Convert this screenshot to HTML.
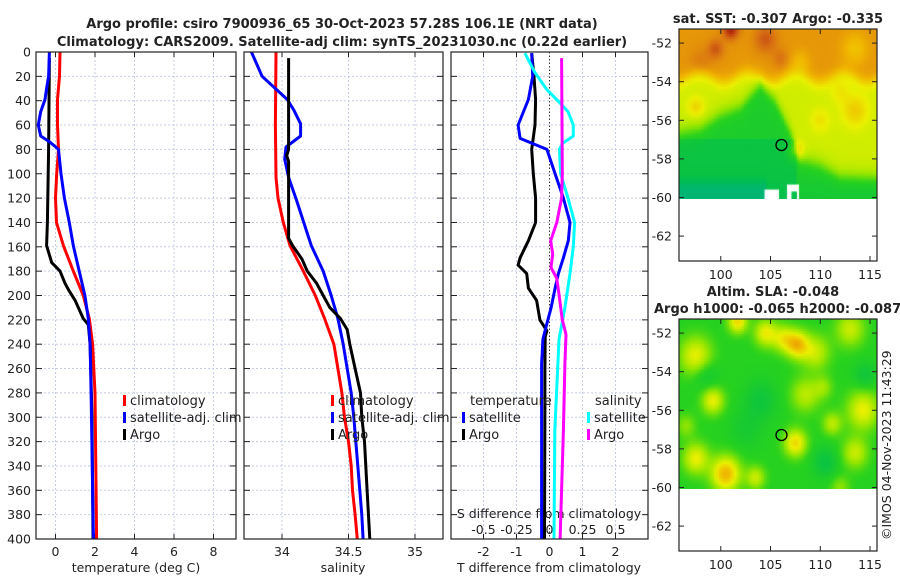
<!DOCTYPE html>
<html><head><meta charset="utf-8">
<style>
html,body{margin:0;padding:0;background:#fff;}
#wrap{position:relative;width:900px;height:580px;overflow:hidden;font-family:"DejaVu Sans","Liberation Sans",sans-serif;}
svg{position:absolute;left:0;top:0;}
canvas{position:absolute;}
text{font-family:"DejaVu Sans","Liberation Sans",sans-serif;fill:#222;}
</style></head>
<body>
<div id="wrap">
<canvas id="sstmap" width="198" height="170" style="left:679px;top:29px;width:198px;height:170px;"></canvas>
<canvas id="slamap" width="198" height="170" style="left:679px;top:319px;width:198px;height:170px;"></canvas>
<svg id="fig" width="900" height="580"></svg>
</div>
<script>
// ---- data arrays ----
const climTDepth=[0,20,39,60,80,100,120,140,159,180,200,219,240,280,400];
const climT=[0.23,0.2,0.1,0.1,0.15,0.06,0,0.05,0.4,0.9,1.41,1.71,1.88,2.0,2.08];
const satTDepth=[0,20,30,39,49,60,69,74,80,100,120,140,159,180,200,219,240,280,400];
const satT=[-0.31,-0.35,-0.45,-0.53,-0.75,-0.87,-0.75,-0.28,0.15,0.28,0.45,0.7,0.9,1.2,1.49,1.66,1.75,1.8,1.92];
const argoTDepth=[5,80,140,159,173,180,190,195,204,219,224,240,300,400];
const argoT=[-0.31,-0.35,-0.41,-0.45,-0.19,0.23,0.48,0.65,0.99,1.41,1.66,1.75,1.85,1.9];

const climSDepth=[0,60,103,120,140,159,180,200,219,240,260,280,300,320,340,360,380,400];
const climS=[33.955,33.95,33.955,33.97,34.01,34.06,34.16,34.25,34.32,34.39,34.42,34.45,34.47,34.5,34.52,34.53,34.55,34.566];
const satSDepth=[0,20,39,48,59,69,78,88,103,122,159,180,200,219,240,260,280,300,340,380,400];
const satS=[33.77,33.85,34.04,34.09,34.14,34.14,34.03,34.02,34.05,34.11,34.22,34.31,34.37,34.42,34.46,34.49,34.52,34.54,34.57,34.6,34.61];
const argoSDepth=[5,80,85,90,153,159,170,180,190,200,210,219,228,240,260,280,300,320,360,400];
const argoS=[34.05,34.05,34.035,34.05,34.05,34.08,34.15,34.19,34.26,34.31,34.36,34.44,34.49,34.51,34.55,34.59,34.6,34.62,34.64,34.66];

const argoTdDepth=[1,20,39,60,80,100,120,140,155,169,175,182,194,204,220,229,234,260,292,400];
const argoTd=[-0.54,-0.47,-0.42,-0.44,-0.54,-0.49,-0.42,-0.42,-0.64,-0.89,-0.95,-0.69,-0.64,-0.39,-0.29,-0.08,-0.13,-0.14,-0.14,-0.15];
const satTdDepth=[1,20,39,60,71,80,100,120,140,155,169,182,194,210,223,236,256,400];
const satTd=[-0.54,-0.51,-0.64,-0.95,-0.89,-0.08,0.17,0.42,0.62,0.57,0.42,0.27,0.17,0.05,-0.08,-0.2,-0.24,-0.24];
const satSdDepth=[1,17,31,42,49,60,69,75,80,100,120,140,160,182,210,236,311,400];
const satSd=[-0.186,-0.11,-0.02,0.08,0.14,0.18,0.18,0.1,0.075,0.085,0.14,0.19,0.18,0.155,0.117,0.072,0.04,0.034];
const argoSdDepth=[5,100,120,140,155,166,177,186,199,220,232,256,311,400];
const argoSd=[0.092,0.097,0.092,0.055,0.009,0.024,0.011,0.055,0.072,0.097,0.125,0.117,0.105,0.08];

const depthTicks=[0,20,40,60,80,100,120,140,160,180,200,220,240,260,280,300,320,340,360,380,400];
const tempTicks=[0,2,4,6,8];
const salTicks=[34,34.5,35];
const salTickLabels=["34","34.5","35"];
const tdTicks=[-2,-1,0,1,2];
const sdTicks=[-0.5,-0.25,0,0.25,0.5];
const sdTickLabels=["-0.5","-0.25","0","0.25","0.5"];
const latTicks=[-52,-54,-56,-58,-60,-62];
const lonTicks=[100,105,110,115];
const argoLon=106.1, argoLat=-57.28;

// ---- axes ----
const yD=d=>52+d*1.2175;
const xT=t=>55.5+19.75*t;
const xS=s=>282+133*(s-34);
const xTd=t=>549.5+33*t;
const xSd=s=>549.5+132*s;
const P=[{x0:36,x1:236},{x0:244,x1:443},{x0:451,x1:648}];
const TOP=52,BOT=539;

const NS="http://www.w3.org/2000/svg";
const svg=document.getElementById('fig');
function el(tag,attrs,parent){const e=document.createElementNS(NS,tag);for(const k in attrs)e.setAttribute(k,attrs[k]);(parent||svg).appendChild(e);return e;}
function txt(x,y,s,attrs,parent){const e=el('text',Object.assign({x:x,y:y,'font-size':12.5},attrs||{}),parent);e.textContent=s;return e;}

let t1=txt(342,28,"Argo profile: csiro 7900936_65 30-Oct-2023 57.28S 106.1E (NRT data)",{'text-anchor':'middle','font-weight':'bold','font-size':13});


let t2=txt(342,46,"Climatology: CARS2009. Satellite-adj clim: synTS_20231030.nc (0.22d earlier)",{'text-anchor':'middle','font-weight':'bold','font-size':13});



function line(pts,color,w,name){
  const p=el('polyline',{points:pts.map(q=>q[0].toFixed(1)+','+q[1].toFixed(1)).join(' '),fill:'none',stroke:color,'stroke-width':w,'stroke-linejoin':'round'});
  
  
  return p;
}
function series(depths,vals,fx,color,name){return line(depths.map((d,i)=>[fx(vals[i]),yD(d)]),color,3,name);}

P.forEach((p,i)=>{
  const g=el('g',{});
  
  
  depthTicks.forEach(d=>{ if(d>0&&d<400) el('line',{x1:p.x0,x2:p.x1,y1:yD(d),y2:yD(d),stroke:'#c5cde6','stroke-width':1,'stroke-dasharray':'2,2'},g);});
  let xs=[];
  if(i===0) xs=tempTicks.map(xT);
  if(i===1) xs=salTicks.map(xS);
  if(i===2) xs=tdTicks.filter(v=>v!==0).map(xTd);
  xs.forEach(x=>el('line',{x1:x,x2:x,y1:TOP,y2:BOT,stroke:'#c5cde6','stroke-width':1,'stroke-dasharray':'2,2'},g));
  if(i===2) el('line',{x1:xTd(0),x2:xTd(0),y1:TOP,y2:BOT,stroke:'#333','stroke-width':1,'stroke-dasharray':'1.5,2'},g);
  depthTicks.forEach(d=>{
    el('line',{x1:p.x0,x2:p.x0+6,y1:yD(d),y2:yD(d),stroke:'#222','stroke-width':1},g);
    el('line',{x1:p.x1-6,x2:p.x1,y1:yD(d),y2:yD(d),stroke:'#222','stroke-width':1},g);
  });
  xs.forEach(x=>{
    el('line',{x1:x,x2:x,y1:BOT-5,y2:BOT,stroke:'#222','stroke-width':1},g);
    el('line',{x1:x,x2:x,y1:TOP,y2:TOP+5,stroke:'#222','stroke-width':1},g);
  });
});
depthTicks.forEach(d=>{let e=txt(31,yD(d)+4.5,String(d),{'text-anchor':'end'});
  
  });
tempTicks.forEach(v=>{let e=txt(xT(v),556,String(v),{'text-anchor':'middle'});
  
  });
salTicks.forEach((v,i)=>{let e=txt(xS(v),556,salTickLabels[i],{'text-anchor':'middle'});
  
  });
tdTicks.forEach(v=>{let e=txt(xTd(v),556,String(v),{'text-anchor':'middle'});
  
  });
sdTicks.forEach((v,i)=>{let e=txt(xSd(v),534,sdTickLabels[i],{'text-anchor':'middle'});
  
  });
let a1=txt(136,572,"temperature (deg C)",{'text-anchor':'middle'});


let a2=txt(343,572,"salinity",{'text-anchor':'middle'});


let a3=txt(549,572,"T difference from climatology",{'text-anchor':'middle'});


let a4=txt(549,518,"S difference from climatology",{'text-anchor':'middle'});



series(climTDepth,climT,xT,'#ff0000','temp-climatology-line');
series(argoTDepth,argoT,xT,'#000000','temp-argo-line');
series(satTDepth,satT,xT,'#0000ff','temp-satellite-line');
series(climSDepth,climS,xS,'#ff0000','sal-climatology-line');
series(satSDepth,satS,xS,'#0000ff','sal-satellite-line');
series(argoSDepth,argoS,xS,'#000000','sal-argo-line');
series(argoTdDepth,argoTd,xTd,'#000000','tdiff-argo-line');
series(satTdDepth,satTd,xTd,'#0000ff','tdiff-satellite-line');
series(satSdDepth,satSd,xSd,'#00ffff','sdiff-satellite-line');
series(argoSdDepth,argoSd,xSd,'#ff00ff','sdiff-argo-line');

P.forEach(p=>el('rect',{x:p.x0,y:TOP,width:p.x1-p.x0,height:BOT-TOP,fill:'none',stroke:'#222','stroke-width':1.2}));

function legendEntry(x,y,color,label,name){
  const g=el('g',{});
  
  
  el('rect',{x:x,y:y-10,width:3,height:11,fill:color},g);
  txt(x+7,y,label,{'font-size':13},g);
}
[[123,'p1'],[331,'p2']].forEach(([x,k])=>{
  legendEntry(x,405,'#ff0000','climatology','legend-climatology-'+k);
  legendEntry(x,422,'#0000ff','satellite-adj. clim','legend-satellite-'+k);
  legendEntry(x,439,'#000000','Argo','legend-argo-'+k);
});
let lt=txt(470,405,'temperature',{'font-size':13});


legendEntry(462,422,'#0000ff','satellite','legend-tdiff-satellite');
legendEntry(462,439,'#000000','Argo','legend-tdiff-argo');
let ls=txt(595,405,'salinity',{'font-size':13});


legendEntry(587,422,'#00ffff','satellite','legend-sdiff-satellite');
legendEntry(587,439,'#ff00ff','Argo','legend-sdiff-argo');

// ---- maps ----
const MX0=679,MX1=877,LON0=95.8,LON1=115.7,LATTOP=-51.27,PXDEG=19.3;
const mLon=l=>MX0+(l-LON0)*(MX1-MX0)/(LON1-LON0);
function drawMapFrame(top,name){
  const g=el('g',{});
  
  
  const mLat=l=>top+(LATTOP-l)*PXDEG;
  const bot=top+232;
  latTicks.forEach(l=>{const y=mLat(l);
    el('line',{x1:MX0,x2:MX0+5,y1:y,y2:y,stroke:'#222'},g);
    el('line',{x1:MX1-5,x2:MX1,y1:y,y2:y,stroke:'#222'},g);
    txt(672,y+4.5,String(l),{'text-anchor':'end'},g);});
  lonTicks.forEach(l=>{const x=mLon(l);
    el('line',{x1:x,x2:x,y1:bot-5,y2:bot,stroke:'#222'},g);
    el('line',{x1:x,x2:x,y1:top,y2:top+5,stroke:'#222'},g);
    txt(x,bot+18,String(l),{'text-anchor':'middle'},g);});
  el('rect',{x:MX0,y:top,width:MX1-MX0,height:232,fill:'none',stroke:'#222','stroke-width':1.2},g);
  const c=el('circle',{cx:mLon(argoLon),cy:mLat(argoLat),r:5.5,fill:'none',stroke:'#000','stroke-width':1.3},g);
  
  
  return g;
}
drawMapFrame(29,'sst-map');
drawMapFrame(319,'sla-map');
let mt1=txt(778,23,'sat. SST: -0.307 Argo: -0.335',{'text-anchor':'middle','font-weight':'bold','font-size':13});


let mt2=txt(773,296,'Altim. SLA: -0.048',{'text-anchor':'middle','font-weight':'bold','font-size':13});


let mt3=txt(654,313,'Argo h1000: -0.065 h2000: -0.087',{'font-weight':'bold','font-size':13});


let cp=txt(0,0,'©IMOS 04-Nov-2023 11:43:29',{'font-size':12.5,transform:'translate(891,540) rotate(-90)'});



const CM=[[0,[0,170,160]],[0.2,[0,190,80]],[0.38,[40,210,30]],[0.5,[150,230,0]],[0.62,[235,240,0]],[0.75,[240,180,0]],[0.87,[215,110,20]],[1,[170,20,10]]];
function cmap(v){v=Math.max(0,Math.min(1,v));for(let i=1;i<CM.length;i++){if(v<=CM[i][0]){const a=CM[i-1],b=CM[i],f=(v-a[0])/(b[0]-a[0]);return a[1].map((c,k)=>Math.round(c+(b[1][k]-c)*f));}}return CM[CM.length-1][1];}
function gauss(lon,lat,blobs){let s=0;for(const b of blobs){const dx=(lon-b[0])/(b[3]*1.6),dy=(lat-b[1])/b[3];s+=b[2]*Math.exp(-(dx*dx+dy*dy));}return s;}
const sstBlobs=[[101,-51.3,0.18,0.5],[99.5,-52.3,0.1,0.5],[104.5,-51.8,0.1,0.7],[106,-52.8,0.06,0.5],[108,-53,-0.06,0.6],[97.5,-55.3,0.1,0.5],[107.5,-57.6,0.16,0.5],[113.5,-55.5,0.12,0.8],[110,-56,0.07,0.6],[98,-53,0.05,0.7],[112,-54.5,0.06,0.6],[113.5,-52.3,-0.08,0.8]];
const greenBnd=[[95,-56.7],[98,-56.4],[100,-55.7],[102,-55.3],[104,-54.1],[105.5,-55],[107,-56.6],[108,-58],[110,-58.3],[112,-58.9],[116,-59]];
function interp(arr,x){for(let i=1;i<arr.length;i++){if(x<=arr[i][0]){const f=(x-arr[i-1][0])/(arr[i][0]-arr[i-1][0]);return arr[i-1][1]+(arr[i][1]-arr[i-1][1])*f;}}return arr[arr.length-1][1];}
const sig=x=>1/(1+Math.exp(-x));
function sstVal(lon,lat){
  const ob=-53.8+0.25*Math.sin(lon*1.3);
  const gb=interp(greenBnd,lon);
  const low=(lon<107.5&&lat<-57)?0.25:0.33;
  let v=low+(0.58-low)*sig((lat-gb)*4);
  v=v+(0.8-0.58)*sig((lat-ob)*5);
  v-= 0.14*sig((-59.2-lat)*6)*(lon<104.5?1:0.2);
  return v+gauss(lon,lat,sstBlobs);
}
const slaBlobs=[[97.5,-53.2,0.25,1.0],[99.2,-55.5,0.25,0.7],[97.5,-58.5,0.25,0.8],[100.5,-59.3,0.38,0.9],[103.5,-59.5,0.2,0.6],[104.5,-52,0.25,0.7],[106.3,-52.3,0.22,0.7],[107.7,-52.6,0.33,0.7],[101.7,-51.4,0.3,0.6],[108.5,-55.2,0.18,0.9],[107.5,-57.7,0.3,0.7],[109.5,-53,0.2,0.9],[113,-51.8,0.2,0.9],[114.3,-56,0.25,1.0],[113.5,-58.2,0.2,0.8],[111.2,-56.7,0.18,0.6],[110.3,-54.8,0.12,0.6],[96.5,-56.8,0.12,0.6],[112,-60,0.12,0.6],
 [98.5,-54.2,-0.1,0.8],[104,-55.5,-0.1,1],[110.5,-58.7,-0.12,0.8],[114.5,-54.2,-0.1,0.7],[102.5,-57,-0.06,1]];
function slaVal(lon,lat){return 0.37+gauss(lon,lat,slaBlobs);}
function paint(id,fn,holes){
  const cv=document.getElementById(id),ctx=cv.getContext('2d');
  const cs=2.5;
  for(let py=0;py<170;py+=cs){for(let px=0;px<198;px+=cs){
    const lon=LON0+(px+cs/2)/198*(LON1-LON0), lat=LATTOP-(py+cs/2)/PXDEG;
    if(lat<-60.05) continue;
    if(holes&&holes(lon,lat)) continue;
    const c=cmap(fn(lon,lat));ctx.fillStyle='rgb('+c.join(',')+')';ctx.fillRect(px,py,cs+0.5,cs+0.5);}}
}
paint('sstmap',sstVal,(lon,lat)=>(lat<-59.6&&lon>104.7&&lon<105.9&&lat>-60.1)||(lat<-59.3&&lon>106.7&&lon<107.9&&!(lat<-59.7&&lon>107.2&&lon<107.7))||(lat<-59.55&&lon>104.4&&lon<104.6));
paint('slamap',slaVal,null);
</script>
</body></html>
